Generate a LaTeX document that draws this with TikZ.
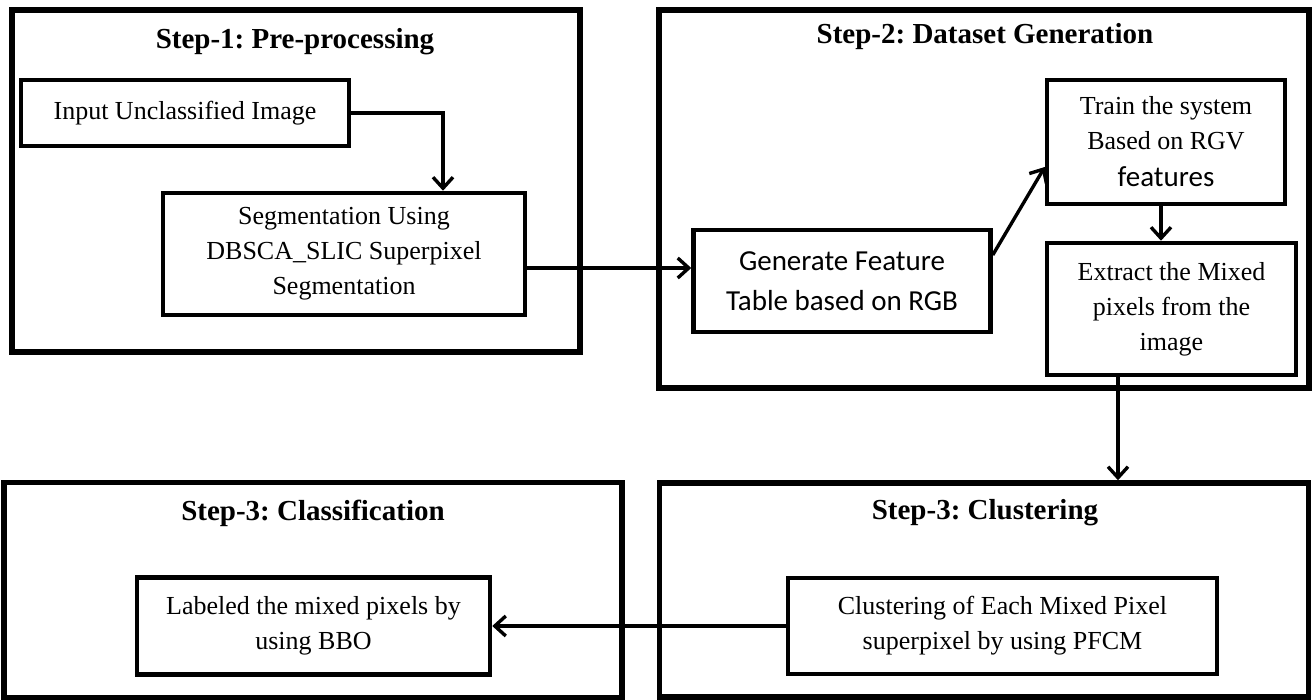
\documentclass[tikz,border=0pt]{standalone}
\usepackage{fontspec}
\setmainfont{Liberation Serif}
\newfontfamily\califont{Carlito}
\usetikzlibrary{arrows.meta,calc}
\frenchspacing
\tikzset{
  outerbox/.style={draw, line width=5.5pt, inner sep=0pt},
  innerbox/.style={draw, line width=4.5pt, align=center, font=\fontsize{26}{35}\selectfont, inner sep=0pt},
  ttl/.style={font=\fontsize{29}{34}\selectfont\bfseries},
  arr/.style={line width=3.4pt, -{Straight Barb[length=11pt,width=20pt,line width=3.4pt]}}
}
\begin{document}
\begin{tikzpicture}[x=1pt,y=-1pt]
\useasboundingbox (0,0) rectangle (1312,700);
% outer boxes
\node[outerbox, minimum width=568pt, minimum height=342pt] (s1) at (296,181) {};
\node[outerbox, minimum width=650pt, minimum height=378pt] (s2) at (984,199) {};
\node[outerbox, minimum width=618pt, minimum height=215pt] (s3) at (313,590) {};
\node[outerbox, minimum width=649pt, minimum height=214pt] (s4) at (984,590) {};
% titles
\node[ttl] (t1) at (295,42) {\frenchspacing Step-1: Pre-processing};
\node[ttl] (t2) at (985,37) {\frenchspacing Step-2: Dataset Generation};
\node[ttl] (t3) at (313,513) {\frenchspacing Step-3: Classification};
\node[ttl] (t4) at (985,513) {\frenchspacing Step-3: Clustering};
% inner boxes
\node[innerbox, minimum width=328pt, minimum height=66pt] (in) at (185,113) {Input Unclassified Image};
\node[innerbox, minimum width=362pt, minimum height=122pt] (seg) at (344,254) {Segmentation Using\\DBSCA\_SLIC Superpixel\\Segmentation};
\node[innerbox, minimum width=297pt, minimum height=102pt, font=\fontsize{29}{40}\selectfont\califont] (gen) at (842,281) {Generate Feature\\Table based on RGB};
\node[innerbox, minimum width=238pt, minimum height=124pt] (train) at (1166,142) {Train the system\\Based on RGV\\[2pt]{\fontsize{29}{35}\selectfont\califont features}};
\node[innerbox, minimum width=249pt, minimum height=132pt] (ext) at (1171.5,309) {Extract the Mixed\\pixels from the\\image};
\node[innerbox, minimum width=353pt, minimum height=97pt] (lab) at (313.5,626) {Labeled the mixed pixels by\\using BBO};
\node[innerbox, minimum width=429pt, minimum height=96pt] (clu) at (1002.5,626) {Clustering of Each Mixed Pixel\\superpixel by using PFCM};
% connectors
\draw[arr] (in.east) -| ([xshift=99pt]seg.north);
\draw[arr] ([yshift=-14pt]seg.east) -- ([yshift=-14pt]seg.east -| gen.west);
\draw[arr] ([yshift=26pt]gen.east) -- ([yshift=-25pt]train.west);
\draw[arr] ([xshift=-5pt]train.south) -- ([xshift=-5pt]train.south |- ext.north);
\draw[arr] ([xshift=-53.5pt]ext.south) -- ([xshift=-53.5pt]ext.south |- s4.north);
\draw[arr] (clu.west) -- (clu.west -| lab.east);
\end{tikzpicture}
\end{document}
